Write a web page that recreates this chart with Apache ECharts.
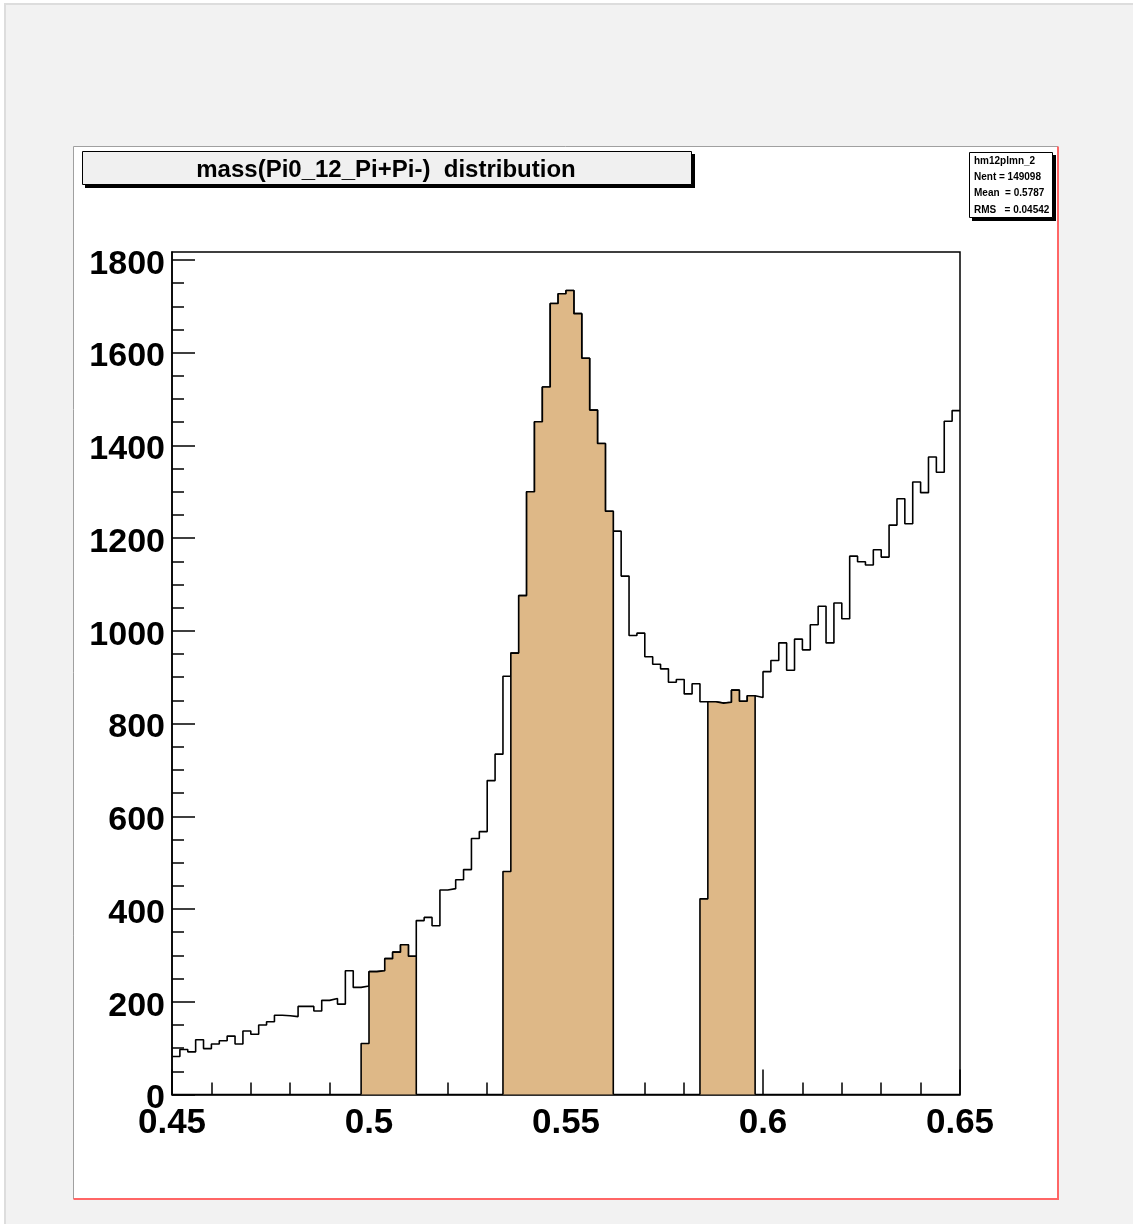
<!DOCTYPE html>
<html><head><meta charset="utf-8">
<script src="https://cdn.jsdelivr.net/npm/echarts@6/dist/echarts.min.js"></script>
<style>html,body{margin:0;padding:0;background:#fff}#c{width:1133px;height:1224px}</style>
</head><body><div id="c"></div>
<script>
// ---- data ----
const xMin = 0.45;
const xMax = 0.65;
const binWidth = 0.002;
const yMax = 1817;
// full histogram (100 bins, 0.45 - 0.65)
const counts = [
  82, 97, 92, 118, 99, 109, 116, 126, 109, 137,
  130, 150, 157, 171, 170, 168, 190, 190, 180, 203,
  207, 195, 267, 231, 234, 265, 267, 293, 307, 323,
  298, 375, 382, 364, 441, 444, 463, 485, 552, 567,
  677, 734, 902, 952, 1076, 1300, 1451, 1526, 1706, 1727,
  1734, 1684, 1588, 1476, 1404, 1258, 1215, 1118, 990, 995,
  944, 928, 918, 889, 895, 864, 886, 847, 847, 844,
  846, 872, 848, 860, 856, 912, 936, 974, 915, 982,
  959, 1013, 1053, 974, 1060, 1026, 1161, 1149, 1142, 1175,
  1159, 1228, 1285, 1231, 1321, 1298, 1375, 1342, 1452, 1475
];
// selected (filled) histogram, 0 outside the selected windows
const fillCounts = [
  0, 0, 0, 0, 0, 0, 0, 0, 0, 0,
  0, 0, 0, 0, 0, 0, 0, 0, 0, 0,
  0, 0, 0, 0, 110, 265, 267, 293, 307, 323,
  298, 0, 0, 0, 0, 0, 0, 0, 0, 0,
  0, 0, 481, 952, 1076, 1300, 1451, 1526, 1706, 1727,
  1734, 1684, 1588, 1476, 1404, 1258, 0, 0, 0, 0,
  0, 0, 0, 0, 0, 0, 0, 422, 847, 844,
  846, 872, 848, 860, 0, 0, 0, 0, 0, 0,
  0, 0, 0, 0, 0, 0, 0, 0, 0, 0,
  0, 0, 0, 0, 0, 0, 0, 0, 0, 0
];
const xTickLabels = ['0.45', '0.5', '0.55', '0.6', '0.65'];
const xMinorTicks = [0.46, 0.47, 0.48, 0.49, 0.51, 0.52, 0.53, 0.54, 0.56, 0.57, 0.58, 0.59, 0.61, 0.62, 0.63, 0.64];
const yTickLabels = ['0', '200', '400', '600', '800', '1000', '1200', '1400', '1600', '1800'];
const yMinorTicks = [50, 100, 150, 250, 300, 350, 450, 500, 550, 650, 700, 750, 850, 900, 950,
  1050, 1100, 1150, 1250, 1300, 1350, 1450, 1500, 1550, 1650, 1700, 1750];
const titleText = 'mass(Pi0_12_Pi+Pi-)  distribution';
const statsLines = ['hm12plmn_2', 'Nent = 149098', 'Mean  = 0.5787', 'RMS   = 0.04542'];

// ---- build ----
const FONT = '"Liberation Sans", Arial, Helvetica, sans-serif';
const edge = i => +(xMin + i * binWidth).toFixed(6);
const outline = [];
counts.forEach((v, i) => { outline.push([edge(i), v], [edge(i + 1), v]); });

const fillSeries = [];
let i = 0;
while (i < fillCounts.length) {
  if (fillCounts[i] > 0) {
    const pts = [[edge(i), 0]];
    while (i < fillCounts.length && fillCounts[i] > 0) {
      pts.push([edge(i), fillCounts[i]], [edge(i + 1), fillCounts[i]]);
      i++;
    }
    pts.push([edge(i), 0]);
    fillSeries.push({
      type: 'line', data: pts, showSymbol: false, symbol: 'none', z: 3,
      lineStyle: { color: '#000', width: 1.6 },
      areaStyle: { color: '#deb887', opacity: 1, origin: 'start' },
      silent: true, animation: false
    });
  } else i++;
}

const xMajor = xTickLabels.map(Number);
const yMajor = yTickLabels.map(Number);

const chart = echarts.init(document.getElementById('c'), null, { renderer: 'canvas' });
chart.setOption({
  animation: false,
  backgroundColor: '#ffffff',
  grid: { left: 172, top: 252, width: 788, height: 842.5, show: true, borderColor: '#000', borderWidth: 1.5, containLabel: false },
  xAxis: [
    { type: 'value', position: 'bottom', min: xMin, max: xMax,
      axisLine: { show: true, onZero: false, lineStyle: { color: '#000', width: 1.5 } },
      axisTick: { show: true, inside: true, length: 25, customValues: xMajor, lineStyle: { color: '#000', width: 1.5 } },
      axisLabel: { show: true, customValues: xMajor, formatter: v => xTickLabels[xMajor.indexOf(+v.toFixed(4))] ?? '',
        fontSize: 35, fontWeight: 'bold', color: '#000', fontFamily: FONT, margin: 11 },
      splitLine: { show: false } },
    { type: 'value', position: 'bottom', min: xMin, max: xMax,
      axisLine: { show: false },
      axisTick: { show: true, inside: true, length: 12, customValues: xMinorTicks, lineStyle: { color: '#000', width: 1.5 } },
      axisLabel: { show: false }, splitLine: { show: false } }
  ],
  yAxis: [
    { type: 'value', position: 'left', min: 0, max: yMax,
      axisLine: { show: true, onZero: false, lineStyle: { color: '#000', width: 1.5 } },
      axisTick: { show: true, inside: true, length: 23, customValues: yMajor, lineStyle: { color: '#000', width: 1.5 } },
      axisLabel: { show: true, customValues: yMajor, formatter: v => '{a|' + Math.round(v) + '}',
        color: '#000', margin: 7,
        rich: { a: { fontSize: 34, fontWeight: 'bold', color: '#000', fontFamily: FONT, padding: [9, 0, 0, 0] } } },
      splitLine: { show: false } },
    { type: 'value', position: 'left', min: 0, max: yMax,
      axisLine: { show: false },
      axisTick: { show: true, inside: true, length: 12, customValues: yMinorTicks, lineStyle: { color: '#000', width: 1.5 } },
      axisLabel: { show: false }, splitLine: { show: false } }
  ],
  series: [
    { type: 'line', data: outline, showSymbol: false, symbol: 'none', z: 2,
      lineStyle: { color: '#000', width: 1.6 }, silent: true, animation: false }
  ].concat(fillSeries),
  graphic: [
    // canvas background
    { type: 'rect', z: -100, silent: true, shape: { x: 5, y: 4, width: 1140, height: 1240 },
      style: { fill: '#f2f2f2', stroke: '#dddddd', lineWidth: 2 } },
    // pad
    { type: 'rect', z: -90, silent: true, shape: { x: 73.5, y: 146.5, width: 985, height: 1053 },
      style: { fill: '#ffffff', stroke: null } },
    { type: 'polyline', z: -80, silent: true, shape: { points: [[73.5, 1199], [73.5, 146.5], [1058, 146.5]] },
      style: { stroke: '#a0a0a0', lineWidth: 1, fill: null } },
    { type: 'polyline', z: -80, silent: true, shape: { points: [[73.5, 1199], [1058, 1199], [1058, 146.5]] },
      style: { stroke: '#ff6666', lineWidth: 2, fill: null } },
    // title box with shadow
    { type: 'rect', z: 100, silent: true, shape: { x: 85, y: 154, width: 610, height: 34 }, style: { fill: '#000' } },
    { type: 'rect', z: 101, silent: true, shape: { x: 82.5, y: 151.5, width: 609, height: 33 },
      style: { fill: '#f0f0f0', stroke: '#000', lineWidth: 1 } },
    { type: 'text', z: 102, silent: true, x: 386, y: 170,
      style: { text: titleText, font: 'bold 24px ' + FONT, fill: '#000', align: 'center', verticalAlign: 'middle' } },
    // stats box with shadow
    { type: 'rect', z: 100, silent: true, shape: { x: 972, y: 155, width: 84, height: 66 }, style: { fill: '#000' } },
    { type: 'rect', z: 101, silent: true, shape: { x: 969.5, y: 152.5, width: 83, height: 65 },
      style: { fill: '#ffffff', stroke: '#000', lineWidth: 1 } },
  ].concat(statsLines.map((t, k) => ({
    type: 'text', z: 102, silent: true, x: 974, y: 161 + k * 16.3,
    style: { text: t, font: 'bold 10px ' + FONT, fill: '#000', align: 'left', verticalAlign: 'middle' }
  })))
});
</script>
</body></html>
